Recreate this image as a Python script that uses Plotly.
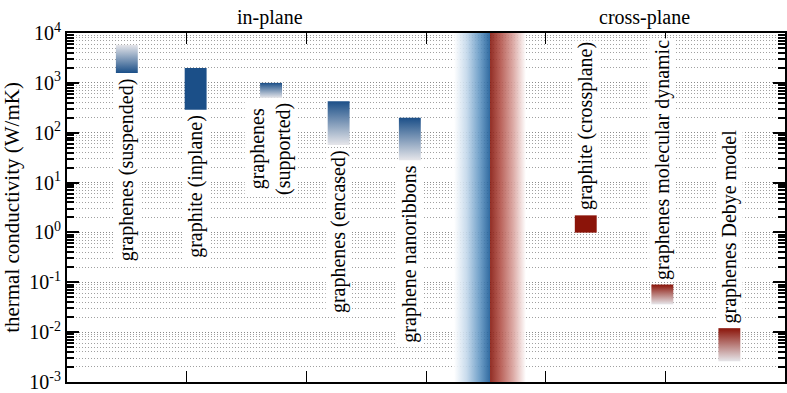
import math
import plotly.graph_objects as go

# ---------------- data ----------------
inplane_labels = ["graphenes (suspended)", "graphite (inplane)", "graphenes<br>(supported)",
                  "graphenes (encased)", "graphene nanoribbons"]
inplane_x = [1.0, 2.15, 3.41, 4.54, 5.73]
inplane_low = [1580, 290, 500, 57, 28]
inplane_high = [5800, 2000, 1000, 430, 200]
inplane_style = ["dark_bottom", "solid", "dark_top", "dark_top", "dark_top"]

cross_labels = ["graphite (crossplane)", "graphenes molecular dynamic", "graphenes Debye model"]
cross_x = [8.67, 9.95, 11.07]
cross_low = [0.99, 0.036, 0.0026]
cross_high = [2.2, 0.09, 0.012]
cross_style = ["solid", "dark_top", "dark_top"]

band_split = 7.07
band_halfwidth = 0.6
y_decades = [-3, -2, -1, 0, 1, 2, 3, 4]
section_titles = ["in-plane", "cross-plane"]
section_x = [3.39, 9.65]

# ---------------- style ----------------
BLUE = "#1b4f88"
RED = "#8b1409"
LIGHT = "#e6e6ea"
FONT = "'Liberation Serif', 'Times New Roman', Times, serif"
HALF = 0.183

fig = go.Figure()

# central gradient bands
fig.add_trace(go.Scatter(
    x=[band_split - band_halfwidth, band_split, band_split, band_split - band_halfwidth, band_split - band_halfwidth],
    y=[1e-3, 1e-3, 1e4, 1e4, 1e-3], mode="lines", line=dict(width=0), fill="toself", opacity=0.9,
    fillgradient=dict(type="horizontal",
                      colorscale=[[0, "rgba(255,255,255,1)"], [0.35, "#c2d7ea"], [0.7, "#6599c5"], [1, "#1a5a96"]]),
    hoverinfo="skip", showlegend=False))
fig.add_trace(go.Scatter(
    x=[band_split, band_split + band_halfwidth, band_split + band_halfwidth, band_split, band_split],
    y=[1e-3, 1e-3, 1e4, 1e4, 1e-3], mode="lines", line=dict(width=0), fill="toself", opacity=0.9,
    fillgradient=dict(type="horizontal",
                      colorscale=[[0, "#85160c"], [0.3, "#b3534a"], [0.65, "#d9a29d"], [1, "rgba(255,255,255,1)"]]),
    hoverinfo="skip", showlegend=False))


def add_bar(xc, lo, hi, style, color):
    kw = dict(x=[xc - HALF, xc + HALF, xc + HALF, xc - HALF, xc - HALF],
              y=[lo, lo, hi, hi, lo], mode="lines", line=dict(width=0), fill="toself",
              hoverinfo="skip", showlegend=False)
    if style == "solid":
        kw["fillcolor"] = color
    elif style == "dark_top":
        kw["fillgradient"] = dict(type="vertical", colorscale=[[0, LIGHT], [1, color]])
    else:
        kw["fillgradient"] = dict(type="vertical", colorscale=[[0, color], [1, LIGHT]])
    fig.add_trace(go.Scatter(**kw))


for xc, lo, hi, st in zip(inplane_x, inplane_low, inplane_high, inplane_style):
    add_bar(xc, lo, hi, st, BLUE)
for xc, lo, hi, st in zip(cross_x, cross_low, cross_high, cross_style):
    add_bar(xc, lo, hi, st, RED)

# labels (annotation positions on a log axis are given in log10 units)
for lab, xc, lo in zip(inplane_labels, inplane_x, inplane_low):
    fig.add_annotation(x=xc, y=math.log10(lo), xref="x", yref="y", text=lab, textangle=-90,
                       showarrow=False, xanchor="center", yanchor="top", yshift=-3,
                       bgcolor="white", font=dict(family=FONT, size=20, color="black"))
for lab, xc, hi in zip(cross_labels, cross_x, cross_high):
    fig.add_annotation(x=xc, y=math.log10(hi), xref="x", yref="y", text=lab, textangle=-90,
                       showarrow=False, xanchor="center", yanchor="bottom", yshift=3,
                       bgcolor="white", font=dict(family=FONT, size=20, color="black"))

for t, xs in zip(section_titles, section_x):
    fig.add_annotation(x=xs, y=1.0, xref="x", yref="paper", text=t, showarrow=False,
                       yanchor="bottom", yshift=2, font=dict(family=FONT, size=20, color="black"))

minor_vals = [k * 10 ** e for e in range(-3, 4) for k in range(2, 10)]

fig.update_xaxes(range=[0, 12], tickvals=[0, 2, 4, 6, 8, 10, 12], showticklabels=False,
                 ticks="inside", ticklen=11, tickwidth=1, tickcolor="black",
                 showline=True, linewidth=2, linecolor="black", mirror="ticks",
                 showgrid=False, zeroline=False)
fig.update_yaxes(type="log", range=[-3.0008, 4.0008],
                 tickvals=[10.0 ** d for d in y_decades],
                 ticktext=["10<sup>%d</sup>" % d for d in y_decades],
                 ticklabeloverflow="allow",
                 ticks="inside", ticklen=12, tickwidth=1.5, tickcolor="black",
                 showline=True, linewidth=2, linecolor="black", mirror="ticks",
                 showgrid=True, gridcolor="#8a8a8a", griddash="1px,2px", gridwidth=1,
                 minor=dict(tickvals=minor_vals, ticks="inside", ticklen=7, tickcolor="black",
                            showgrid=True, gridcolor="#a0a0a0", griddash="1px,2px", gridwidth=1),
                 tickfont=dict(family=FONT, size=20, color="black"),
                 title=dict(text="thermal conductivity (W/mK)", standoff=8,
                            font=dict(family=FONT, size=21, color="black")),
                 zeroline=False)

fig.update_layout(width=787, height=393, margin=dict(l=67, r=0, t=33, b=10),
                  paper_bgcolor="white", plot_bgcolor="white", showlegend=False,
                  font=dict(family=FONT, size=20, color="black"))

fig.write_html("out.html")
